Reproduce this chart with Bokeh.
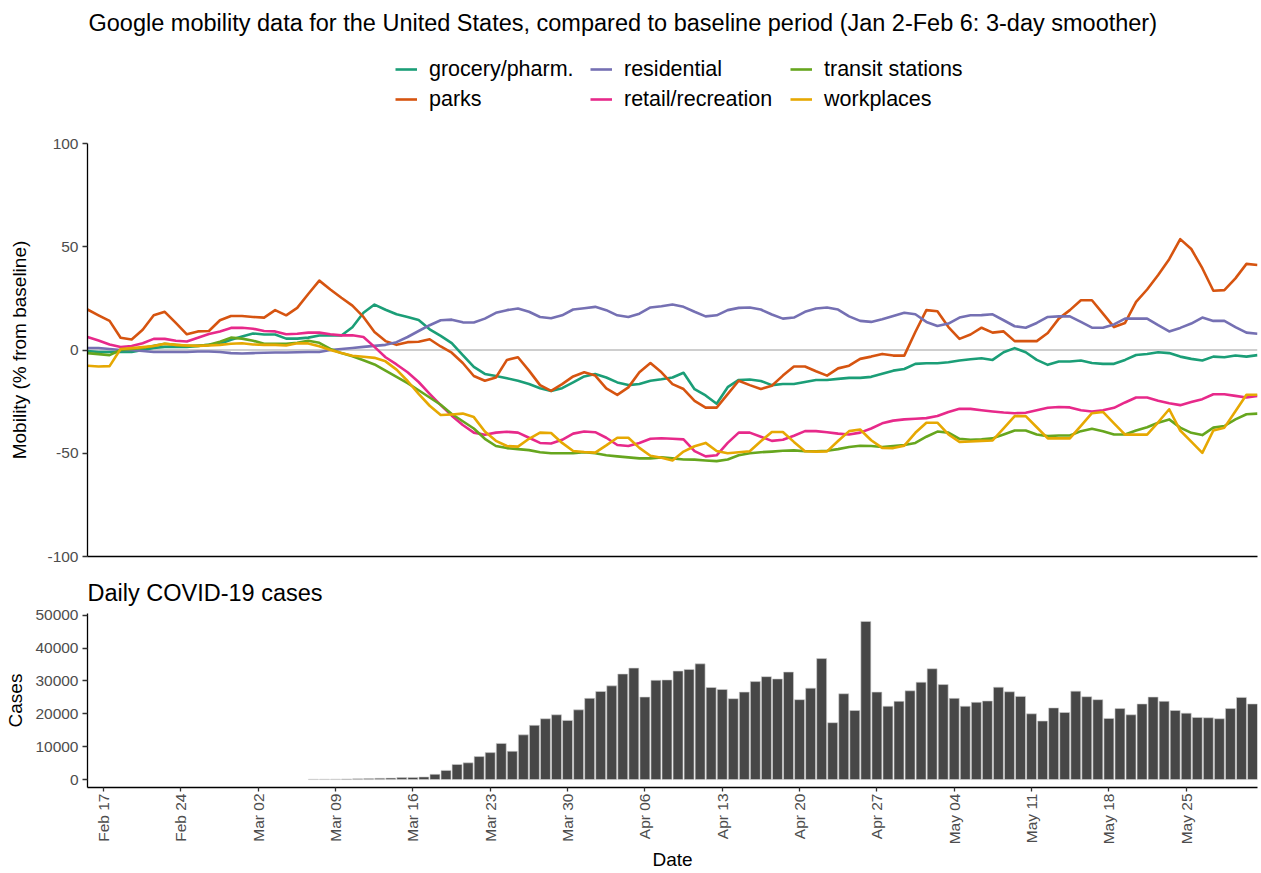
import math
import numpy as np
import pandas as pd
from bokeh.plotting import figure
from bokeh.layouts import column
from bokeh.models import (Range1d, Legend, LegendItem, Label, Span, FixedTicker,
                          DatetimeTickFormatter, BasicTickFormatter)
from bokeh.embed import file_html
from bokeh.resources import INLINE

FONT = "Liberation Sans"

title_text = ("Google mobility data for the United States, compared to baseline period "
              "(Jan 2-Feb 6: 3-day smoother)")
cases_title = "Daily COVID-19 cases"

series_names = ["grocery/pharm.", "parks", "residential", "retail/recreation",
                "transit stations", "workplaces"]
series_colors = ["#1B9E77", "#D65410", "#7570B3", "#E7298A", "#66A61E", "#E6A802"]

mobility_start = "2020-02-15"
grocery = [-0.5, -1, -1, -1, -1, 0, 1, 1.5, 1.5, 1.5,
           2, 2.5, 3, 5, 6.5, 8, 7.5, 7.5, 5.5, 5.5,
           6, 7, 7, 7, 11, 18, 22, 19.5, 17.3, 16,
           14.5, 10, 6.8, 3.3, -2.5, -8.2, -11.6, -12.6, -13.7, -14.9,
           -16.5, -18.5, -19.8, -18.5, -15.7, -12.8, -11.6, -13.3, -15.7, -17,
           -16.5, -14.9, -14.2, -13.3, -11, -19, -22, -26, -18, -14.5,
           -14.3, -15, -17, -16.5, -16.5, -15.5, -14.5, -14.5, -14, -13.5,
           -13.5, -13, -11.5, -10, -9.2, -6.7, -6.4, -6.4, -5.9, -5.1,
           -4.5, -4, -4.8, -1.1, 0.9, -1.1, -4.8, -7.2, -5.6, -5.6,
           -5.1, -6.3, -6.7, -6.7, -4.8, -2.4, -1.9, -1.1, -1.5, -3.2,
           -4.3, -5.1, -3.2, -3.5, -2.7, -3.2, -2.5]
parks = [19.6, 16.8, 14.1, 5.9, 5.1, 9.8, 16.8, 18.5, 13.1, 7.6,
         9.0, 9.2, 14.4, 16.5, 16.5, 16.0, 15.7, 19.3, 16.8, 20.4,
         27.1, 33.6, 29.3, 25.3, 21.5, 16.0, 8.7, 4.3, 2.5, 3.8,
         4.0, 5.2, 1.7, -1.3, -6.3, -12.6, -14.9, -13.3, -4.8, -3.5,
         -10.0, -17.0, -19.8, -16.5, -12.8, -10.8, -12.4, -18.6, -21.7, -18.1,
         -10.8, -6.3, -10.8, -16.5, -18.9, -24.6, -27.9, -27.9, -21.4, -14.9,
         -17.0, -18.9, -17.3, -12.4, -8.0, -8.0, -10.3, -12.4, -8.9, -7.6,
         -4.3, -3.2, -1.9, -2.7, -2.7, 8.7, 19.3, 18.8, 11.1, 5.4,
         7.5, 10.8, 8.4, 9.0, 4.3, 4.3, 4.3, 8.2, 15.2, 19.3,
         24.1, 24.1, 17.6, 11.1, 13.1, 23.3, 29.3, 36.3, 44.0, 53.7,
         48.9, 39.6, 28.7, 29.0, 34.7, 41.7, 41.2]
residential = [1, 1, 0.5, 0, 0, -0.5, -1, -1, -1, -1,
               -0.7, -0.7, -1, -1.5, -1.7, -1.5, -1.3, -1.2, -1.2, -1.1,
               -1, -1, 0, 0.5, 1, 1.5, 2, 2.5, 3.8, 6.3,
               9.2, 12, 14.4, 14.7, 13.4, 13.3, 15.2, 18, 19.3, 20.1,
               18.5, 16, 15.4, 16.8, 19.6, 20.2, 20.9, 19.3, 16.8, 16,
               17.6, 20.6, 21.2, 22, 20.9, 18.5, 16.3, 16.8, 19.3, 20.4,
               20.6, 19.6, 17.2, 15.2, 15.7, 18.5, 20.1, 20.6, 19.6, 16.3,
               14.1, 13.6, 14.9, 16.5, 18, 17.3, 13.6, 11.6, 12.8, 15.7,
               16.8, 16.9, 17.3, 14.4, 11.5, 10.8, 13.1, 16, 16.3, 16.3,
               13.6, 10.8, 10.8, 12.4, 15.2, 15.2, 15.2, 12, 9.0, 10.7,
               12.8, 15.7, 14.1, 14.1, 11.1, 8.4, 7.9]
retail = [6.3, 4.6, 2.7, 1.4, 1.9, 3.3, 5.4, 5.4, 4.5, 4.1,
          5.9, 7.7, 9.0, 10.7, 10.8, 10.3, 9.2, 9.0, 7.6, 7.9,
          8.4, 8.4, 7.6, 7.1, 7.1, 6.3, 1.5, -3.5, -7, -10.8,
          -15.5, -21.2, -26.7, -31.8, -36.3, -40, -41, -40, -39.6, -40,
          -42.5, -45, -45.3, -43.5, -40.5, -39.5, -39.8, -42.5, -46, -46.5,
          -45, -43, -42.7, -43, -43.3, -49, -51.5, -51, -45, -40,
          -40, -42, -44, -43.5, -41.5, -39.3, -39.3, -39.8, -40.5, -40.9,
          -40, -38, -35.5, -34.2, -33.6, -33.3, -33, -32, -30, -28.5,
          -28.5, -29.2, -29.8, -30.3, -30.6, -30.4, -29.2, -28, -27.6, -27.8,
          -29.2, -29.8, -29.2, -28, -25.4, -23, -23, -24.6, -25.8, -26.7,
          -25.2, -23.8, -21.4, -21.4, -22.2, -23, -22.2]
transit = [-1.5, -2, -2.5, 0, 0.5, 1, 2, 3, 2.5, 2,
           2, 2.5, 4, 6, 5.5, 4.5, 3, 3, 3, 3.5,
           4.5, 3.5, 0.5, -1.5, -3, -5, -7, -10, -13, -16,
           -19.5, -23, -26.5, -31, -34.5, -38, -43, -46.5, -47.5, -48,
           -48.5, -49.5, -50, -50, -50, -49.5, -50, -51, -51.5, -52,
           -52.5, -52.5, -52, -52.5, -53, -53.1, -53.5, -53.8, -53, -51,
           -50, -49.5, -49.2, -48.8, -48.6, -49, -49, -48.8, -48, -47,
           -46.4, -46.5, -47, -46.5, -46, -45, -42, -39.5, -40, -43,
           -43.5, -43.3, -42.8, -40.9, -39, -39, -40.9, -41.7, -41.4, -41.4,
           -39.3, -38.1, -39.3, -40.9, -40.9, -39, -37.4, -35.2, -33.6, -37.6,
           -40.1, -41.2, -37.6, -36.8, -33.6, -31.1, -30.8]
workplaces = [-7.6, -8, -7.8, 0.5, 0.9, 1.4, 1.9, 3, 2.5, 2.2,
              2, 2.2, 2.5, 3, 3.3, 2.7, 2.5, 2.5, 2.2, 3.3,
              3.2, 1.8, 0, -1.5, -2.8, -3.3, -3.8, -5.5, -9.5, -15,
              -21.2, -27, -31.5, -31.2, -30.8, -32.5, -39.5, -44, -46.5, -46.8,
              -43, -40, -40.2, -45, -48.9, -49.4, -49.7, -46.2, -42.5, -42.5,
              -47.4, -51.2, -52.2, -53.5, -49.2, -46.6, -45, -48.9, -50, -49.5,
              -49, -44.2, -39.7, -39.7, -44.5, -49, -49.2, -49.1, -44.1, -39.3,
              -38.5, -43.7, -47.4, -47.5, -46.3, -40.1, -35.2, -35.2, -40.9, -44.5,
              -44.3, -44, -43.8, -38, -32, -32, -37.4, -42.8, -42.8, -42.8,
              -36.7, -30.6, -30, -35.5, -41, -41, -41, -35, -28.7, -39,
              -44.4, -49.8, -39, -37.6, -29.7, -21.7, -21.7]

# daily cases from Feb 16; days before Mar 7 have no reported value
cases_start = "2020-02-16"
cases = [float("nan")] * 20 + [
    100, 110, 130, 200, 250, 300, 400, 450, 600, 650,
    800, 1600, 2800, 4600, 5100, 7000, 8200, 11000, 8600, 13600,
    16500, 18500, 19700, 18000, 21200, 24700, 26800, 28500, 32100, 33900,
    25100, 30200, 30300, 33000, 33500, 35200, 28000, 27400, 24600, 26600,
    29800, 31300, 30600, 32700, 24300, 27800, 36800, 17300, 26100, 21000,
    48100, 26600, 22300, 23800, 27000, 29600, 33700, 28900, 24700, 22300,
    23500, 23900, 28100, 26700, 25300, 20000, 17800, 21800, 20400, 26900,
    25200, 24300, 18600, 21600, 19700, 23000, 25100, 23800, 21000, 20200,
    18900, 18800, 18500, 21600, 25000, 23000]

mobility_ticks = [-100, -50, 0, 50, 100]
cases_ticks = [0, 10000, 20000, 30000, 40000, 50000]
date_ticks = ["2020-02-17", "2020-02-24", "2020-03-02", "2020-03-09", "2020-03-16",
              "2020-03-23", "2020-03-30", "2020-04-06", "2020-04-13", "2020-04-20",
              "2020-04-27", "2020-05-04", "2020-05-11", "2020-05-18", "2020-05-25"]

series_values = [grocery, parks, residential, retail, transit, workplaces]
mob_dates = pd.date_range(mobility_start, periods=len(grocery), freq="D")
case_dates = pd.date_range(cases_start, periods=len(cases), freq="D")
DAY = pd.Timedelta(days=1)
BAR_FRAC = 0.9
tick_ms = [pd.Timestamp(t).value // 10**6 for t in date_ticks]

W = 1261
LEFT = 87
RIGHT = 4
TICK_GREY = "#4D4D4D"


def style_axis(ax, label_size="15.5px"):
    ax.axis_line_color = "black"
    ax.axis_line_width = 1.3
    ax.major_tick_line_color = "#333333"
    ax.major_tick_line_width = 1.3
    ax.major_tick_out = 5
    ax.major_tick_in = 0
    ax.minor_tick_out = 0
    ax.minor_tick_in = 0
    ax.major_label_text_font = FONT
    ax.major_label_text_font_size = label_size
    ax.major_label_text_color = TICK_GREY
    ax.axis_label_text_font = FONT
    ax.axis_label_text_font_size = "19px"
    ax.axis_label_text_font_style = "normal"
    ax.axis_label_text_color = "black"


# ---------- header: title + legend ----------
HEAD_H = 128
head = figure(width=W, height=HEAD_H, x_range=Range1d(0, 1), y_range=Range1d(0, 1),
              toolbar_location=None, output_backend="svg",
              x_axis_location=None, y_axis_location=None,
              min_border_left=LEFT, min_border_right=RIGHT, min_border_top=0,
              min_border_bottom=0, outline_line_color=None)
head.grid.visible = False
# legend proxies (no visible data)
head_lines = [head.line(x=[float("nan")], y=[float("nan")], line_color=c, line_width=2.6)
              for c in series_colors]

legend_cols_x = [308, 503, 703]   # frame-relative screen px
for ci, lx in enumerate(legend_cols_x):
    items = [LegendItem(label=series_names[2 * ci + k], renderers=[head_lines[2 * ci + k]])
             for k in range(2)]
    leg = Legend(items=items, location=(lx, 14), orientation="vertical",
                 spacing=0, padding=0, margin=0,
                 glyph_width=22, glyph_height=30, label_height=30, label_standoff=12,
                 label_text_font=FONT, label_text_font_size="21.5px",
                 label_text_color="black",
                 border_line_color=None, background_fill_alpha=0)
    head.add_layout(leg)

head.add_layout(Label(x=1, y=HEAD_H - 22, x_units="screen", y_units="screen", text=title_text,
                      text_font=FONT, text_font_size="23.5px", text_baseline="middle",
                      text_align="left", text_color="black"))

# ---------- mobility panel ----------
top = figure(width=W, height=441, x_axis_type="datetime",
             x_range=Range1d(mob_dates[0], mob_dates[-1]), y_range=Range1d(-100, 100),
             toolbar_location=None, output_backend="svg",
             min_border_left=LEFT, min_border_right=RIGHT, min_border_top=15,
             min_border_bottom=13, outline_line_color=None)
top.grid.visible = False
top.add_layout(Span(location=0, dimension="width", line_color="#BEBEBE",
                    line_width=1.5, level="underlay"))
for vals, col in zip(series_values, series_colors):
    top.line(x=mob_dates, y=vals, line_color=col, line_width=2.6, line_join="round")

yax = top.yaxis[0]
style_axis(yax)
yax.ticker = FixedTicker(ticks=mobility_ticks)
yax.major_label_overrides = {t: str(t) for t in mobility_ticks}
yax.axis_label = "Mobility (% from baseline)"
yax.major_label_standoff = 4
yax.axis_label_standoff = 14

xax = top.xaxis[0]
style_axis(xax)
xax.ticker = FixedTicker(ticks=[])
xax.major_tick_out = 0
xax.major_label_standoff = 0

# ---------- cases panel ----------
pad = 0.05 * np.nanmax(cases)
bot = figure(width=W, height=304, x_axis_type="datetime",
             x_range=Range1d(case_dates[0] - BAR_FRAC / 2 * DAY, case_dates[-1] + BAR_FRAC / 2 * DAY),
             y_range=Range1d(-pad, np.nanmax(cases) + pad),
             toolbar_location=None, output_backend="svg",
             min_border_left=LEFT, min_border_right=RIGHT, min_border_top=44,
             min_border_bottom=84, outline_line_color=None)
bot.grid.visible = False
bot.title.text = cases_title
bot.title.text_font = FONT
bot.title.text_font_size = "23.5px"
bot.title.text_font_style = "normal"
bot.title.text_color = "black"
bot.title.align = "left"
bot.title.standoff = 15

bot.vbar(x=case_dates, top=cases, width=BAR_FRAC * 86400000, bottom=0,
         fill_color="#474747", line_color="#D0D0D0", line_width=0.6)

byax = bot.yaxis[0]
style_axis(byax)
byax.ticker = FixedTicker(ticks=cases_ticks)
byax.formatter = BasicTickFormatter(use_scientific=False)
byax.axis_label = "Cases"
byax.major_label_standoff = 4
byax.axis_label_standoff = 6

bxax = bot.xaxis[0]
style_axis(bxax)
bxax.ticker = FixedTicker(ticks=tick_ms)
fmt = "%b %d"
bxax.formatter = DatetimeTickFormatter(days=fmt, months=fmt, years=fmt, hours=fmt,
                                       hourmin=fmt, minutes=fmt, minsec=fmt,
                                       seconds=fmt, milliseconds=fmt, microseconds=fmt)
bxax.major_label_orientation = math.pi / 2
bxax.major_tick_out = 4
bxax.major_label_standoff = 2
bxax.axis_label = "Date"
bxax.axis_label_standoff = 2

layout = column(head, top, bot)
open("out.html", "w").write(file_html(layout, INLINE))
